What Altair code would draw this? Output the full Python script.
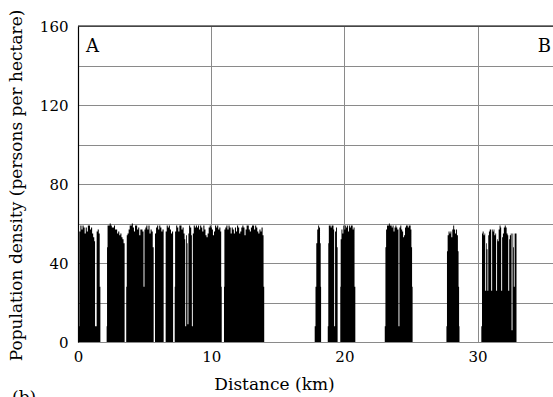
import altair as alt
import pandas as pd

# Population density profile along the transect A-B (km, persons per hectare)
seg1 = [(0.07, 8), (0.10, 56), (0.18, 59), (0.26, 57), (0.34, 59), (0.42, 58), (0.50, 55), (0.58, 58),
        (0.66, 56), (0.74, 59), (0.82, 59), (0.90, 57), (0.98, 58), (1.06, 55), (1.14, 53), (1.22, 51),
        (1.28, 8), (1.40, 56), (1.48, 57), (1.56, 55), (1.63, 28), (1.68, 0)]
seg2 = [(2.15, 8), (2.18, 48), (2.22, 59), (2.30, 59), (2.38, 60), (2.46, 59), (2.54, 58), (2.62, 58),
        (2.70, 59), (2.78, 57), (2.86, 57), (2.94, 55), (3.02, 56), (3.10, 54), (3.18, 55), (3.26, 53),
        (3.34, 52), (3.42, 50), (3.50, 0)]
seg3 = [(3.62, 28), (3.66, 54), (3.72, 55), (3.80, 57), (3.88, 59), (3.96, 59), (4.04, 60), (4.12, 58),
        (4.20, 56), (4.28, 59), (4.36, 59), (4.44, 57), (4.52, 58), (4.60, 54), (4.68, 57), (4.76, 57),
        (4.84, 56), (4.92, 28), (4.99, 57), (5.06, 58), (5.13, 59), (5.21, 57), (5.29, 59), (5.37, 55),
        (5.45, 57), (5.53, 56), (5.61, 48), (5.68, 0)]
seg4 = [(5.78, 55), (5.86, 58), (5.94, 59), (6.02, 57), (6.10, 59), (6.18, 58), (6.26, 56), (6.34, 57),
        (6.43, 0)]
seg5 = [(6.58, 56), (6.66, 59), (6.74, 58), (6.82, 59), (6.90, 57), (6.98, 55), (7.06, 56), (7.14, 0)]
seg6 = [(7.26, 28), (7.29, 56), (7.37, 59), (7.45, 58), (7.53, 56), (7.61, 59), (7.69, 59), (7.77, 57),
        (7.85, 58), (7.93, 55), (8.00, 52), (8.05, 8), (8.12, 54), (8.18, 50), (8.22, 9), (8.29, 55),
        (8.34, 59), (8.42, 58), (8.50, 54), (8.55, 8), (8.62, 55), (8.69, 59), (8.77, 58), (8.85, 59),
        (8.93, 58), (9.01, 59), (9.09, 57), (9.17, 59), (9.25, 58), (9.33, 56), (9.41, 59), (9.49, 57),
        (9.57, 54), (9.65, 53), (9.73, 55), (9.81, 58), (9.89, 59), (9.97, 58), (10.05, 57), (10.13, 54),
        (10.21, 56), (10.29, 59), (10.37, 58), (10.45, 59), (10.53, 57), (10.61, 58), (10.69, 56),
        (10.75, 28), (10.79, 0)]
seg7 = [(10.96, 28), (10.99, 57), (11.06, 58), (11.14, 59), (11.22, 57), (11.30, 59), (11.38, 58),
        (11.46, 55), (11.54, 58), (11.62, 57), (11.70, 55), (11.78, 58), (11.86, 56), (11.94, 59),
        (12.02, 58), (12.10, 55), (12.18, 56), (12.26, 58), (12.34, 59), (12.42, 58), (12.50, 54),
        (12.58, 57), (12.66, 59), (12.74, 59), (12.82, 57), (12.90, 56), (12.98, 58), (13.06, 59),
        (13.14, 59), (13.22, 57), (13.30, 59), (13.38, 58), (13.46, 56), (13.54, 55), (13.62, 57),
        (13.70, 56), (13.78, 58), (13.86, 54), (13.93, 28), (13.98, 0)]
seg8 = [(17.77, 8), (17.83, 28), (17.89, 50), (17.96, 57), (18.03, 59), (18.10, 58), (18.17, 50),
        (18.22, 28), (18.25, 0)]
seg9 = [(18.75, 8), (18.79, 50), (18.83, 59), (18.90, 59), (18.97, 58), (19.04, 59), (19.11, 59),
        (19.18, 57), (19.23, 8), (19.30, 56), (19.37, 58), (19.44, 48), (19.49, 0)]
seg10 = [(19.69, 28), (19.72, 52), (19.78, 57), (19.85, 55), (19.92, 59), (19.99, 57), (20.06, 59),
         (20.13, 58), (20.20, 59), (20.27, 56), (20.34, 59), (20.41, 58), (20.48, 59), (20.55, 59),
         (20.62, 57), (20.69, 58), (20.76, 28), (20.82, 0)]
seg11 = [(23.03, 8), (23.08, 48), (23.13, 57), (23.20, 59), (23.27, 59), (23.34, 60), (23.41, 59),
         (23.48, 59), (23.55, 58), (23.62, 59), (23.69, 56), (23.76, 58), (23.83, 59), (23.90, 58),
         (23.97, 57), (24.06, 8), (24.13, 58), (24.20, 59), (24.27, 57), (24.34, 56), (24.41, 53),
         (24.48, 54), (24.55, 58), (24.62, 59), (24.69, 59), (24.76, 58), (24.83, 59), (24.90, 59),
         (24.97, 57), (25.03, 48), (25.08, 28), (25.12, 0)]
seg12 = [(27.66, 8), (27.70, 46), (27.75, 54), (27.82, 56), (27.89, 55), (27.96, 56), (28.03, 53),
         (28.10, 57), (28.17, 59), (28.24, 57), (28.31, 55), (28.38, 57), (28.45, 54), (28.52, 46),
         (28.57, 28), (28.61, 8), (28.64, 0)]
seg13 = [(30.28, 8), (30.33, 55), (30.38, 56), (30.45, 54), (30.52, 55), (30.57, 26), (30.64, 50),
         (30.69, 47), (30.74, 26), (30.80, 54), (30.85, 56), (30.91, 57), (30.97, 57), (31.02, 26),
         (31.09, 57), (31.14, 56), (31.20, 57), (31.26, 54), (31.33, 55), (31.39, 26), (31.46, 52),
         (31.51, 51), (31.58, 57), (31.65, 59), (31.72, 58), (31.77, 26), (31.84, 53), (31.90, 55),
         (31.97, 58), (32.04, 59), (32.11, 58), (32.18, 55), (32.25, 54), (32.30, 26), (32.37, 52),
         (32.42, 54), (32.49, 55), (32.55, 6), (32.62, 55), (32.67, 48), (32.72, 28), (32.78, 55),
         (32.85, 55), (32.92, 0)]

segments = [seg1, seg2, seg3, seg4, seg5, seg6, seg7, seg8, seg9, seg10, seg11, seg12, seg13]

x_ticks = [0, 10, 20, 30]
y_grid = [0, 20, 40, 60, 80, 100, 120, 140, 160]
x_max = 35.66
end_labels = ["A", "B"]

rows = [{"km": k, "density": v} for seg in segments for (k, v) in seg]
df = pd.DataFrame(rows)

FONT = "DejaVu Serif"
W, H = 475, 316

area = alt.Chart(df).mark_area(interpolate="step-after", color="black").encode(
    x=alt.X("km:Q", scale=alt.Scale(domain=[0, x_max], nice=False, zero=False),
            axis=alt.Axis(values=x_ticks, grid=True, gridColor="#8a8a8a", gridWidth=1,
                          ticks=False, tickSize=0, domainColor="#8a8a8a", domainWidth=1,
                          labelFont=FONT, labelFontSize=15, labelColor="black", labelPadding=7,
                          labelBaseline="top", labelFlush=False,
                          title="Distance (km)", titleFont=FONT, titleFontSize=17,
                          titleFontWeight="normal", titleColor="black",
                          titleX=196, titleY=47, titleBaseline="alphabetic", titleAlign="center")),
    y=alt.Y("density:Q", scale=alt.Scale(domain=[0, 160], nice=False),
            axis=alt.Axis(values=y_grid, grid=True, gridColor="#8a8a8a", gridWidth=1,
                          ticks=False, tickSize=0, domainColor="black", domainWidth=1.2,
                          labelExpr="datum.value % 40 == 0 ? datum.label : ''",
                          labelFont=FONT, labelFontSize=15, labelColor="black", labelPadding=10,
                          labelFlush=False,
                          title="Population density (persons per hectare)", titleFont=FONT,
                          titleFontSize=17, titleFontWeight="normal", titleColor="black",
                          titleX=-57, titleY=H / 2 + 1, titleAngle=270, titleBaseline="alphabetic",
                          titleAlign="center")),
)

top_border = alt.Chart(pd.DataFrame({"k": [0]})).mark_rule(color="black", strokeWidth=1.2).encode(
    x=alt.value(0), x2=alt.value(W), y=alt.value(0)
)

label_a = alt.Chart(pd.DataFrame({"t": [end_labels[0]]})).mark_text(
    font=FONT, fontSize=18, color="black", align="left", baseline="alphabetic"
).encode(text="t:N", x=alt.value(8), y=alt.value(26))

label_b = alt.Chart(pd.DataFrame({"t": [end_labels[1]]})).mark_text(
    font=FONT, fontSize=18, color="black", align="right", baseline="alphabetic"
).encode(text="t:N", x=alt.value(473), y=alt.value(26))

panel = alt.Chart(pd.DataFrame({"t": ["(b)"]})).mark_text(
    font=FONT, fontSize=17, color="black", align="left", baseline="alphabetic"
).encode(text="t:N", x=alt.value(12 - 78), y=alt.value(377))

chart = alt.layer(area, top_border, label_a, label_b, panel).properties(
    width=W, height=H,
    autosize=alt.AutoSizeParams(type="none"),
    padding={"left": 78, "top": 26, "right": 0, "bottom": 55},
    background="white",
).configure_view(stroke=None)

chart.save("out.html", embed_options={"renderer": "svg", "actions": False})
